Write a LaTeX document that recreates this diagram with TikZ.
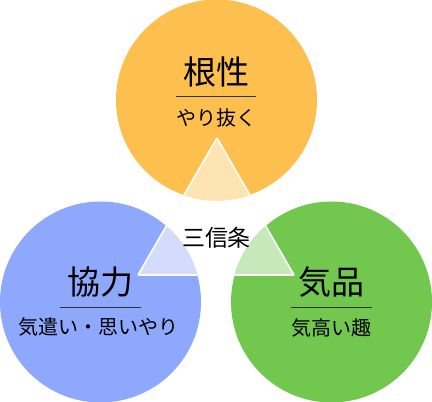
\documentclass[tikz,border=0pt]{standalone}
\usepackage{fontspec}
\setmainfont{Noto Sans CJK JP}
\usetikzlibrary{positioning}
\definecolor{gritOrange}{HTML}{FDBF4E}
\definecolor{gritLight}{HTML}{FFE4B3}
\definecolor{teamBlue}{HTML}{8EA8FE}
\definecolor{teamLight}{HTML}{D4DCFE}
\definecolor{graceGreen}{HTML}{72C74F}
\definecolor{graceLight}{HTML}{C7E8B9}
\begin{document}
\begin{tikzpicture}[x=1pt, y=1pt,
	every node/.style={inner sep=0pt, text=black},
	title/.style={font=\fontsize{33}{33}\selectfont},
	subtitle/.style={font=\fontsize{20}{20}\selectfont},
	rule/.style={draw=black!80, line width=1pt},
	wedgeedge/.style={draw=white, line width=1.6pt}]
	\useasboundingbox (0,0) rectangle (432,402);
	
	% 1. 三つの円
	\fill[gritOrange] (216.5,302) circle (100.5);
	\fill[teamBlue] (100.5,100) circle (100.5);
	\fill[graceGreen] (331.5,100) circle (100.5);
	
	% 2. 中央に向いた淡い三角（円で切り取る）
	\begin{scope}
		\clip (216.5,302) circle (100.5);
		\fill[gritLight] (217,264) -- ++(240:120) -- ++(0:120) -- cycle;
		\draw[wedgeedge] (217,264) -- ++(240:120) (217,264) -- ++(300:120);
	\end{scope}
	\begin{scope}
		\clip (100.5,100) circle (100.5);
		\fill[teamLight] (138,127) -- ++(0:120) -- ++(120:120) -- cycle;
		\draw[wedgeedge] (138,127) -- ++(0:120) (138,127) -- ++(60:120);
	\end{scope}
	\begin{scope}
		\clip (331.5,100) circle (100.5);
		\fill[graceLight] (294,127) -- ++(180:120) -- ++(60:120) -- cycle;
		\draw[wedgeedge] (294,127) -- ++(180:120) (294,127) -- ++(120:120);
	\end{scope}
	
	% 3. 見出しと下線
	\node[title] (grit) at (216,330) {根性};
	\node[subtitle] (gritsub) at (216,284) {やり抜く};
	\coordinate (gritL) at (176,305);
	\coordinate (gritR) at (256,305);
	\draw[rule] (gritL) -- (gritR);
	
	\node[title] (team) at (100,120) {協力};
	\node[subtitle] (teamsub) at (98.5,75.5) {気遣い・思いやり};
	\coordinate (teamL) at (60,94.5);
	\coordinate (teamR) at (141,94.5);
	\draw[rule] (teamL) -- (teamR);
	
	\node[title] (grace) at (331.5,119.5) {気品};
	\node[subtitle] (gracesub) at (331,74) {気高い趣};
	\coordinate (graceL) at (291,94);
	\coordinate (graceR) at (372,94);
	\draw[rule] (graceL) -- (graceR);
	
	% 4. 中央の言葉
	\node[font=\fontsize{23}{23}\selectfont] (creed) at (216.5,164.5) {三信条};
\end{tikzpicture}
\end{document}
